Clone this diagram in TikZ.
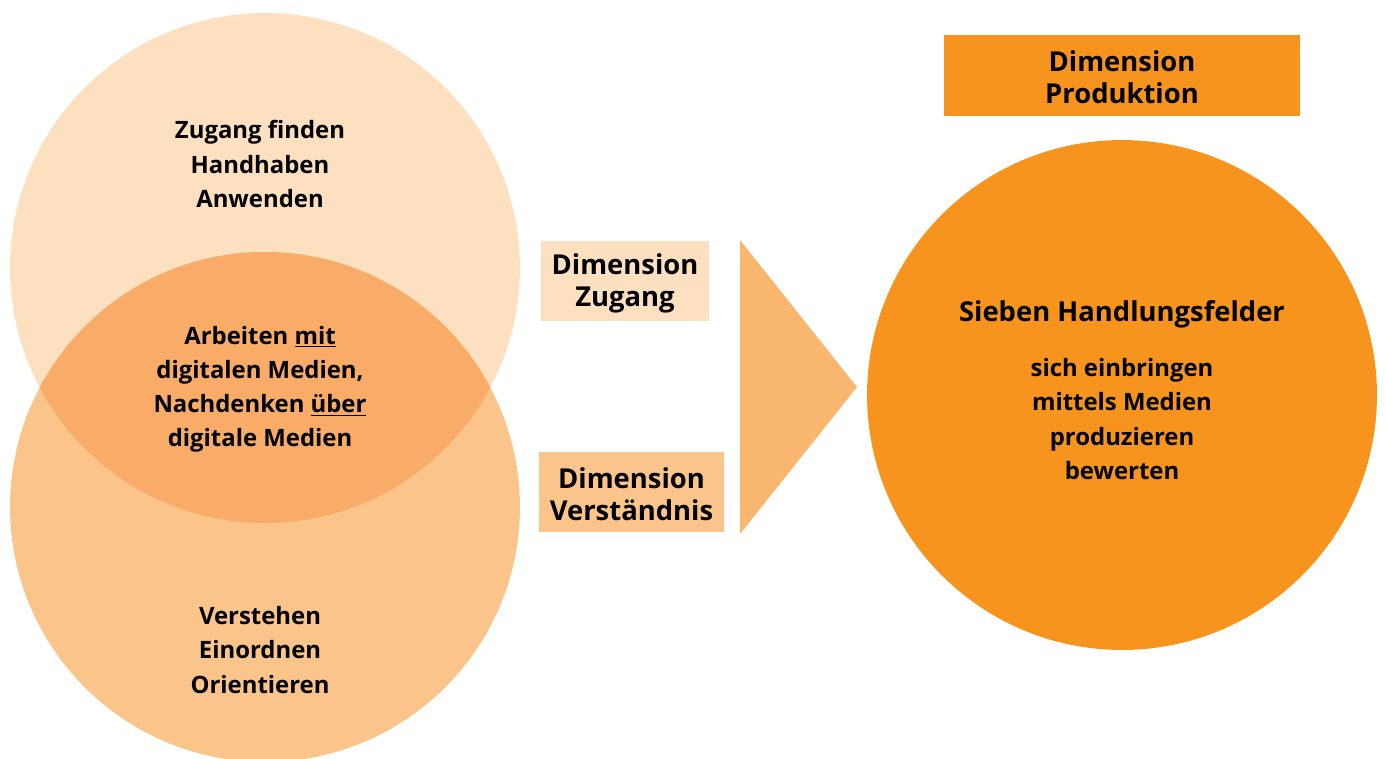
\documentclass[tikz,border=0pt]{standalone}
\usepackage{fontspec}
\setmainfont{Open Sans}
\usetikzlibrary{positioning}
\definecolor{hell}{HTML}{FDE0C0}
\definecolor{mittel}{HTML}{FAC48A}
\definecolor{schnitt}{HTML}{F8AC68}
\definecolor{pfeil}{HTML}{F9B66E}
\definecolor{kraeftig}{HTML}{F7941D}

\begin{document}
\begin{tikzpicture}[x=0.02cm,y=-0.02cm,font=\bfseries,
  kr/.style={circle,minimum size=10.2cm,inner sep=0pt},
  tx/.style={align=center,font=\fontsize{13.6}{19.4}\selectfont\bfseries},
  dim/.style={align=center,inner sep=0pt,font=\fontsize{15.6}{18.2}\selectfont\bfseries}]
  \useasboundingbox (0,0) rectangle (1385,758);
  % Kreise links
  \node[kr,fill=hell] (oben) at (265,268) {};
  \node[kr,fill=mittel] (unten) at (265,507) {};
  \begin{scope}
    \clip (265,268) circle (255);
    \fill[schnitt] (265,507) circle (255);
  \end{scope}
  \node[tx] (zug) at (260,164) {Zugang finden\\Handhaben\\Anwenden};
  \node[tx] (mit) at (260,389) {Arbeiten \underline{mit}\\digitalen Medien,\\Nachdenken \underline{über}\\digitale Medien};
  \node[tx] (vst) at (260,650) {Verstehen\\Einordnen\\Orientieren};
  % Dimensionen
  \fill[hell] (541,241) rectangle (709,321);
  \node[dim] (dz) at (625,283) {Dimension\\Zugang};
  \fill[mittel] (539,452) rectangle (724,532);
  \node[dim] (dv) at (631.5,494) {Dimension\\Verständnis};
  \fill[pfeil] (740,240) -- (857,387) -- (740,534) -- cycle;
  \fill[kraeftig] (944,35) rectangle (1300,116);
  \node[dim] (dp) at (1122,77.5) {Dimension\\Produktion};
  % Kreis rechts
  \node[kr,fill=kraeftig] (felder) at (1122,395) {};
  \node[dim] (sieben) at (1122,314) {Sieben Handlungsfelder};
  \node[tx] (liste) at (1122,419) {sich einbringen\\mittels Medien\\produzieren\\bewerten};
\end{tikzpicture}
\end{document}
